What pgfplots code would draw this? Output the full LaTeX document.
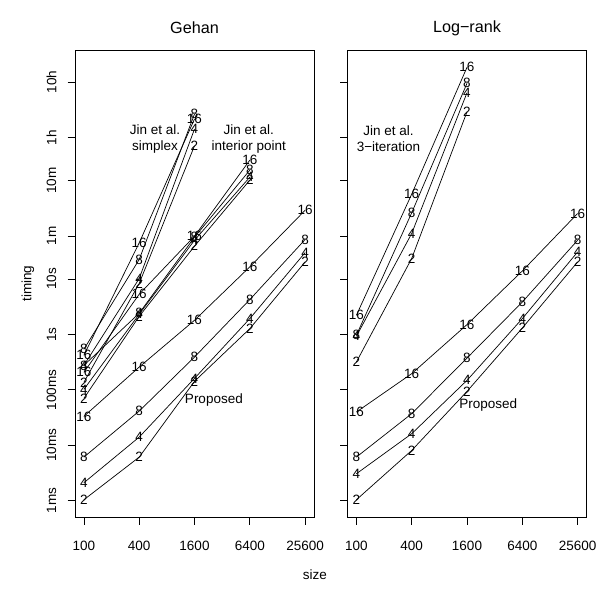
\documentclass[border=0pt]{standalone}
\usepackage{fontspec}
\setmainfont{Liberation Sans}
\usepackage{pgfplots}
\pgfplotsset{compat=1.18}
\newcommand{\fs}{\fontsize{13.5}{16}\selectfont}
\newcommand{\fst}{\fontsize{16.2}{19}\selectfont}
\pgfplotsset{
  numlab/.style={black, line width=0.7pt, mark=none,
    nodes near coords={#1},
    every node near coord/.append style={anchor=center, inner sep=0pt, font=\fs, black}},
}
\begin{document}
\begin{tikzpicture}
\path[use as bounding box] (-75pt,-74.5pt) rectangle (525pt,517.5pt);
% ---------------- Gehan ----------------
\begin{axis}[
    scale only axis, width=239pt, height=467.5pt,
    xmode=log, ymode=log,
    xmin=80.1, xmax=31960, ymin=0.000493, ymax=137200,
    xtick={100,400,1600,6400,25600},
    xticklabels={100,400,1600,6400,25600},
    ytick={0.001,0.01,0.1,1,10,60,600,3600,36000},
    minor xtick={}, minor ytick={},
    xtick pos=bottom, ytick pos=left,
    tick align=outside, major tick length=7.5pt,
    tick style={black, line width=0.7pt},
    axis line style={black, line width=0.7pt},
    tick label style={font=\fs},
    xticklabel style={anchor=center, yshift=-20.5pt},
    clip=false,
    at={(0pt,0pt)}, anchor=south west,
    yticklabels={1ms,10ms,100ms,1s,10s,1m,10m,1h,10h},
    yticklabel style={rotate=90, anchor=center, yshift=16pt}]
% Proposed
\addplot[numlab=2] coordinates {(100,0.00103) (400,0.00607) (1600,0.142) (6400,1.27) (25600,20.4)};
\addplot[numlab=4] coordinates {(100,0.00209) (400,0.01397) (1600,0.1607) (6400,1.93) (25600,30.1)};
\addplot[numlab=8] coordinates {(100,0.00607) (400,0.0412) (1600,0.390) (6400,4.26) (25600,51.8)};
\addplot[numlab=16] coordinates {(100,0.0330) (400,0.257) (1600,1.80) (6400,16.6) (25600,175)};
% Jin et al. simplex
\addplot[numlab=2] coordinates {(100,0.136) (400,8.29) (1600,2553)};
\addplot[numlab=4] coordinates {(100,0.276) (400,10.2) (1600,5117)};
\addplot[numlab=8] coordinates {(100,0.538) (400,22.5) (1600,9550)};
\addplot[numlab=16] coordinates {(100,0.419) (400,45.0) (1600,7762)};
% Jin et al. interior point
\addplot[numlab=2] coordinates {(100,0.0698) (400,2.12) (1600,39.2) (6400,612)};
\addplot[numlab=4] coordinates {(100,0.1016) (400,2.31) (1600,50.3) (6400,693)};
\addplot[numlab=8] coordinates {(100,0.276) (400,2.41) (1600,57.0) (6400,927)};
\addplot[numlab=16] coordinates {(100,0.2066) (400,5.31) (1600,59.4) (6400,1406)};
\node[font=\fs, align=center, inner sep=0pt] at (axis cs:595,3412) {Jin et al.\\simplex};
\node[font=\fs, align=center, inner sep=0pt] at (axis cs:6237,3412) {Jin et al.\\interior point};
\node[font=\fs, inner sep=0pt] at (axis cs:2601,0.0643) {Proposed};
\end{axis}
% ---------------- Log-rank ----------------
\begin{axis}[
    scale only axis, width=239pt, height=467.5pt,
    xmode=log, ymode=log,
    xmin=80.1, xmax=31960, ymin=0.000493, ymax=137200,
    xtick={100,400,1600,6400,25600},
    xticklabels={100,400,1600,6400,25600},
    ytick={0.001,0.01,0.1,1,10,60,600,3600,36000},
    minor xtick={}, minor ytick={},
    xtick pos=bottom, ytick pos=left,
    tick align=outside, major tick length=7.5pt,
    tick style={black, line width=0.7pt},
    axis line style={black, line width=0.7pt},
    tick label style={font=\fs},
    xticklabel style={anchor=center, yshift=-20.5pt},
    clip=false,
    at={(272.5pt,0pt)}, anchor=south west,
    yticklabels={}]
\addplot[numlab=2] coordinates {(100,0.00103) (400,0.00802) (1600,0.0935) (6400,1.306) (25600,20.4)};
\addplot[numlab=4] coordinates {(100,0.00304) (400,0.01607) (1600,0.148) (6400,1.93) (25600,30.9)};
\addplot[numlab=8] coordinates {(100,0.00607) (400,0.0370) (1600,0.374) (6400,3.85) (25600,50.3)};
\addplot[numlab=16] coordinates {(100,0.0396) (400,0.1954) (1600,1.504) (6400,14.0) (25600,152.8)};
% Jin et al. 3-iteration
\addplot[numlab=2] coordinates {(100,0.317) (400,23.5) (1600,10500)};
\addplot[numlab=4] coordinates {(100,0.925) (400,66.5) (1600,23200)};
\addplot[numlab=8] coordinates {(100,0.964) (400,157) (1600,34300)};
\addplot[numlab=16] coordinates {(100,2.21) (400,341) (1600,66800)};
\node[font=\fs, align=center, inner sep=0pt] at (axis cs:224,3373) {Jin et al.\\3−iteration};
\node[font=\fs, inner sep=0pt] at (axis cs:2723,0.0522) {Proposed};
\end{axis}
% titles and axis labels
\node[font=\fst] at (119.5pt,489.5pt) {Gehan};
\node[font=\fst] at (392pt,489.5pt) {Log−rank};
\node[font=\fs, rotate=90] at (-47pt,234pt) {timing};
\node[font=\fs] at (240pt,-57.5pt) {size};
\end{tikzpicture}
\end{document}
